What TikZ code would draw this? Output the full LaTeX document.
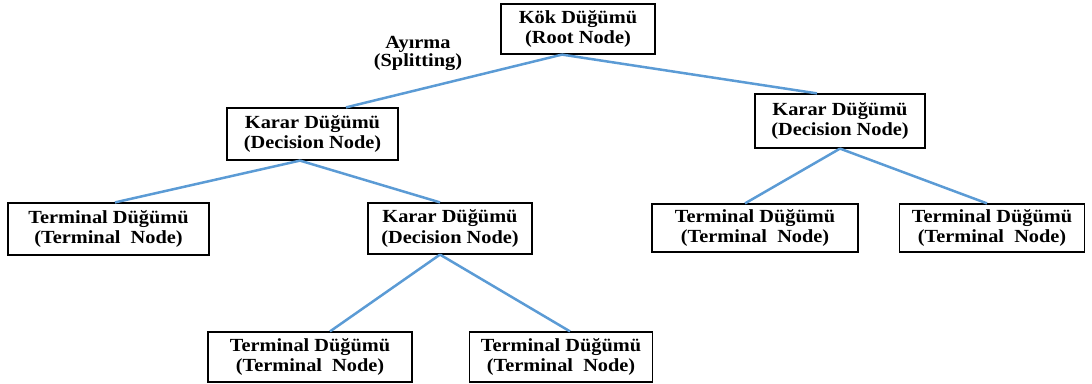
\documentclass[tikz,border=0pt]{standalone}
\usepackage{fontspec}
\setmainfont{Liberation Serif}[FakeStretch=1.1]
\definecolor{dalblue}{RGB}{91,155,213}

\begin{document}
\begin{tikzpicture}[x=1pt,y=-1pt,
  kutu/.style={draw,line width=1.2pt,align=center,inner sep=0pt,
    font=\fontsize{18.5}{20.5}\selectfont\bfseries,minimum height=50pt},
  dal/.style={draw=dalblue,line width=2.5pt}]
\useasboundingbox(0,0)rectangle(1092,383);
%
\node[kutu,minimum width=154pt](kok)at(578,29){Kök Düğümü\\(Root Node)};
\node[kutu,minimum width=171pt,minimum height=52pt](kararL)at(312.5,134){Karar Düğümü\\(Decision Node)};
\node[kutu,minimum width=170pt,minimum height=54pt](kararR)at(840,121){Karar Düğümü\\(Decision Node)};
\node[kutu,minimum width=201pt,minimum height=52pt](termLL)at(108.5,229){Terminal Düğümü\\(Terminal\ \ Node)};
\node[kutu,minimum width=164pt,minimum height=51pt](kararM)at(450,228.5){Karar Düğümü\\(Decision Node)};
\node[kutu,minimum width=206pt,minimum height=48pt](termRL)at(755,228){Terminal Düğümü\\(Terminal\ \ Node)};
\node[kutu,minimum width=185pt,minimum height=48pt](termRR)at(992,228){Terminal Düğümü\\(Terminal\ \ Node)};
\node[kutu,minimum width=204pt,minimum height=50pt](termBL)at(310,357){Terminal Düğümü\\(Terminal\ \ Node)};
\node[kutu,minimum width=183pt,minimum height=50pt](termBR)at(561,357){Terminal Düğümü\\(Terminal\ \ Node)};
%
\node[align=center,font=\fontsize{18.5}{18}\selectfont\bfseries](ayirma)at(418,53){Ayırma\\(Splitting)};
%
\draw[dal]([xshift=-16pt]kok.south)--([xshift=33.5pt]kararL.north);
\draw[dal]([xshift=-16pt]kok.south)--([xshift=-23pt]kararR.north);
\draw[dal]([xshift=-12.5pt]kararL.south)--([xshift=6.5pt]termLL.north);
\draw[dal]([xshift=-12.5pt]kararL.south)--([xshift=-10pt]kararM.north);
\draw[dal](kararR.south)--([xshift=-10pt]termRL.north);
\draw[dal](kararR.south)--([xshift=-5pt]termRR.north);
\draw[dal]([xshift=-10pt]kararM.south)--([xshift=20pt]termBL.north);
\draw[dal]([xshift=-10pt]kararM.south)--([xshift=9pt]termBR.north);
\end{tikzpicture}
\end{document}
